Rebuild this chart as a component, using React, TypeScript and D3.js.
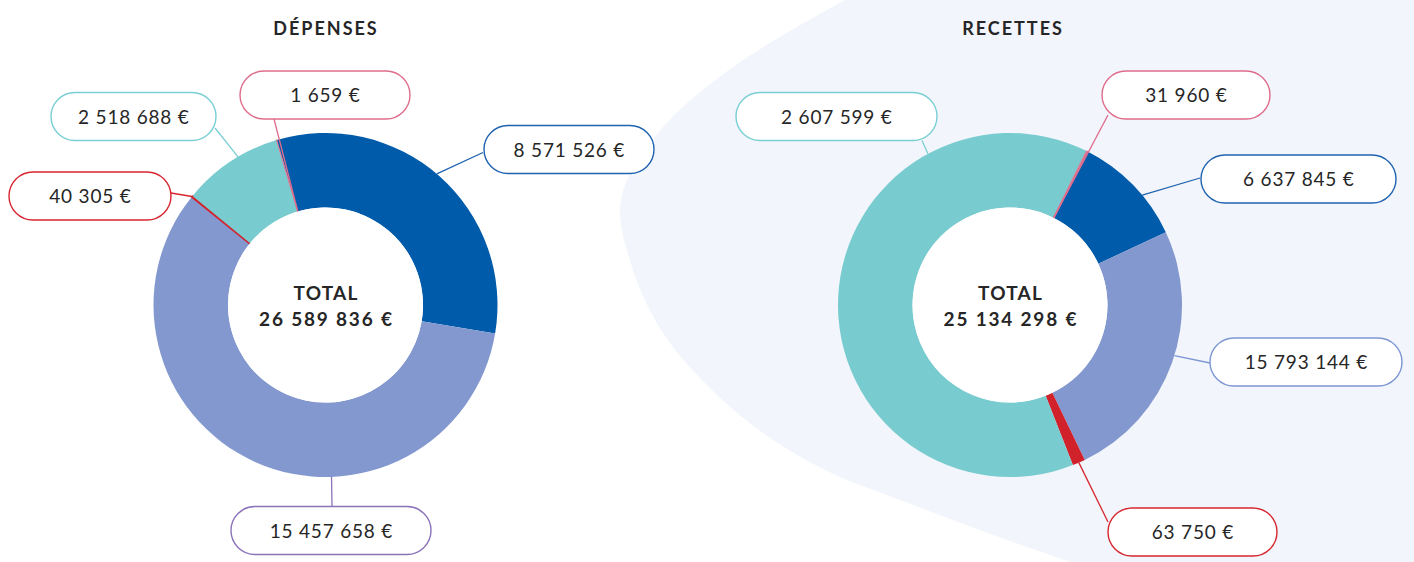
import React from "react";
import * as d3 from "d3";

const W = 1414;
const H = 562;

// ---------- data ----------
const depensesTitle = "DÉPENSES";
const recettesTitle = "RECETTES";
const totalLabel = "TOTAL";

// slice order (clockwise): bleu, lavande, rouge, turquoise, rose
const sliceColors = ["#005BAA", "#8398CF", "#D1222B", "#78CCCF", "#E27594"];

const depensesValues = [8571526, 15457658, 40305, 2518688, 1659];
const depensesTotal = 26589836;

const recettesValues = [6637845, 15793144, 63750, 2607599, 31960];
const recettesTotal = 25134298;
// sizes of the recettes arcs as drawn in the reference (percent of the ring)
const recettesArcShares = [10.6, 24.8, 1.2, 63.3, 0.1];

// label border colours
const depensesBorderColors = ["#1F63B0", "#8B73B9", "#D7262F", "#7ACFD4", "#DF6C8B"];
const recettesBorderColors = ["#1F63B0", "#7D96D4", "#D7262F", "#7ACFD4", "#DF6C8B"];

// ---------- layout ----------
const RIN = 97.5;
const ROUT = 172;
const BOX_H = 48;

const depensesLayout = {
  cx: 325.5,
  cy: 305,
  startDeg: -16.5,
  titleX: 325,
  labels: [
    { off: -1.2, ring: "outer", bx: 569, by: 149.5, w: 170, ex: -86, ey: 3 },
    { off: -26.2, ring: "outer", bx: 331, by: 530.5, w: 200, ex: 1, ey: -24 },
    { off: 0, ring: "outer", bx: 90, by: 196, w: 162, ex: 81, ey: -3 },
    { off: 3, ring: "outer", bx: 133.5, by: 116.5, w: 165, ex: 81.5, ey: 11.5 },
    { off: 0, ring: "inner", bx: 325, by: 95, w: 170, ex: -51, ey: 24 },
  ],
};

const recettesLayout = {
  cx: 1010,
  cy: 305,
  startDeg: 26.8,
  titleX: 1012,
  labels: [
    { off: 4.4, ring: "outer", bx: 1298.5, by: 179, w: 195, ex: -98.5, ey: -1 },
    { off: -2.5, ring: "outer", bx: 1306, by: 362, w: 192, ex: -96, ey: 1 },
    { off: 0, ring: "outer", bx: 1192.5, by: 532, w: 169, ex: -84.5, ey: -10 },
    { off: 59, ring: "outer", bx: 836.5, by: 116.5, w: 201, ex: 85.5, ey: 24 },
    { off: 0, ring: "inner", bx: 1186, by: 95, w: 168, ex: -78, ey: 20 },
  ],
};

const fr = d3.formatLocale({
  decimal: ",",
  thousands: " ",
  grouping: [3],
  currency: ["", " €"],
});
const fmt = fr.format("$,.0f");

const FONT = "Lato, 'Open Sans', sans-serif";
const TEXT = "#262626";

function Donut({
  layout,
  arcValues,
  labelValues,
  borderColors,
  title,
  total,
}: any) {
  const rad = (d: number) => (d * Math.PI) / 180;
  const start = rad(layout.startDeg);
  const pie = d3
    .pie<number>()
    .sort(null)
    .value((d) => d)
    .startAngle(start)
    .endAngle(start + 2 * Math.PI);
  const arcs = pie(arcValues);
  const arcGen = d3.arc<any>().innerRadius(RIN).outerRadius(ROUT);
  const { cx, cy } = layout;
  const pt = (a: number, r: number) => [cx + r * Math.sin(a), cy - r * Math.cos(a)];

  return (
    <g>
      <text
        x={layout.titleX + 1}
        y={35}
        textAnchor="middle"
        fontFamily={FONT}
        fontWeight={700}
        fontSize={18}
        fill={TEXT}
        letterSpacing={2}
      >
        {title}
      </text>
      <g transform={`translate(${cx},${cy})`}>
        {arcs.map((a, i) => {
          const small = a.endAngle - a.startAngle < rad(2);
          return (
            <path
              key={i}
              d={arcGen(a) as string}
              fill={sliceColors[i]}
              stroke={small ? sliceColors[i] : "none"}
              strokeWidth={small ? 1.1 : 0}
            />
          );
        })}
        <circle r={RIN} fill="#ffffff" />
      </g>
      {arcs.map((a, i) => {
        const L = layout.labels[i];
        const mid = (a.startAngle + a.endAngle) / 2 + rad(L.off);
        const [x1, y1] = pt(mid, L.ring === "inner" ? RIN : ROUT);
        const x2 = L.bx + L.ex;
        const y2 = L.by + L.ey;
        return (
          <line
            key={"l" + i}
            x1={x1}
            y1={y1}
            x2={x2}
            y2={y2}
            stroke={borderColors[i]}
            strokeWidth={1.3}
          />
        );
      })}
      {arcs.map((a, i) => {
        const L = layout.labels[i];
        return (
          <g key={"b" + i}>
            <rect
              x={L.bx - L.w / 2}
              y={L.by - BOX_H / 2}
              width={L.w}
              height={BOX_H}
              rx={BOX_H / 2}
              ry={BOX_H / 2}
              fill="#ffffff"
              stroke={borderColors[i]}
              strokeWidth={1.4}
            />
            <text
              x={L.bx + 0.4}
              y={L.by + 7}
              textAnchor="middle"
              fontFamily={FONT}
              fontSize={19}
              letterSpacing={0.8}
              fill={TEXT}
            >
              {fmt(labelValues[i])}
            </text>
          </g>
        );
      })}
      <text
        x={cx + 0.6}
        y={cy - 5}
        textAnchor="middle"
        fontFamily={FONT}
        fontWeight={700}
        fontSize={19}
        letterSpacing={1.2}
        fill={TEXT}
      >
        {totalLabel}
      </text>
      <text
        x={cx + 0.9}
        y={cy + 21}
        textAnchor="middle"
        fontFamily={FONT}
        fontWeight={700}
        fontSize={19}
        letterSpacing={1.8}
        fill={TEXT}
      >
        {fmt(total)}
      </text>
    </g>
  );
}

export default function App() {
  const blobPts: [number, number][] = [
    [845, 0],
    [733, 67],
    [658, 133],
    [621, 200],
    [632, 267],
    [663, 333],
    [712, 390],
    [763, 433],
    [825, 470],
    [900, 500],
    [985, 532],
    [1070, 562],
  ];
  const blobLine = d3.line().curve(d3.curveCatmullRom.alpha(0.5))(blobPts) as string;
  const blob = `${blobLine} L ${W} ${H} L ${W} 0 Z`;

  return (
    <div style={{ position: "fixed", left: 0, top: 0 }}>
      <svg width={W} height={H} style={{ display: "block", background: "#ffffff" }}>
        <path d={blob} fill="#F2F5FB" />
        <Donut
          layout={depensesLayout}
          arcValues={depensesValues}
          labelValues={depensesValues}
          borderColors={depensesBorderColors}
          title={depensesTitle}
          total={depensesTotal}
        />
        <Donut
          layout={recettesLayout}
          arcValues={recettesArcShares}
          labelValues={recettesValues}
          borderColors={recettesBorderColors}
          title={recettesTitle}
          total={recettesTotal}
        />
      </svg>
    </div>
  );
}
